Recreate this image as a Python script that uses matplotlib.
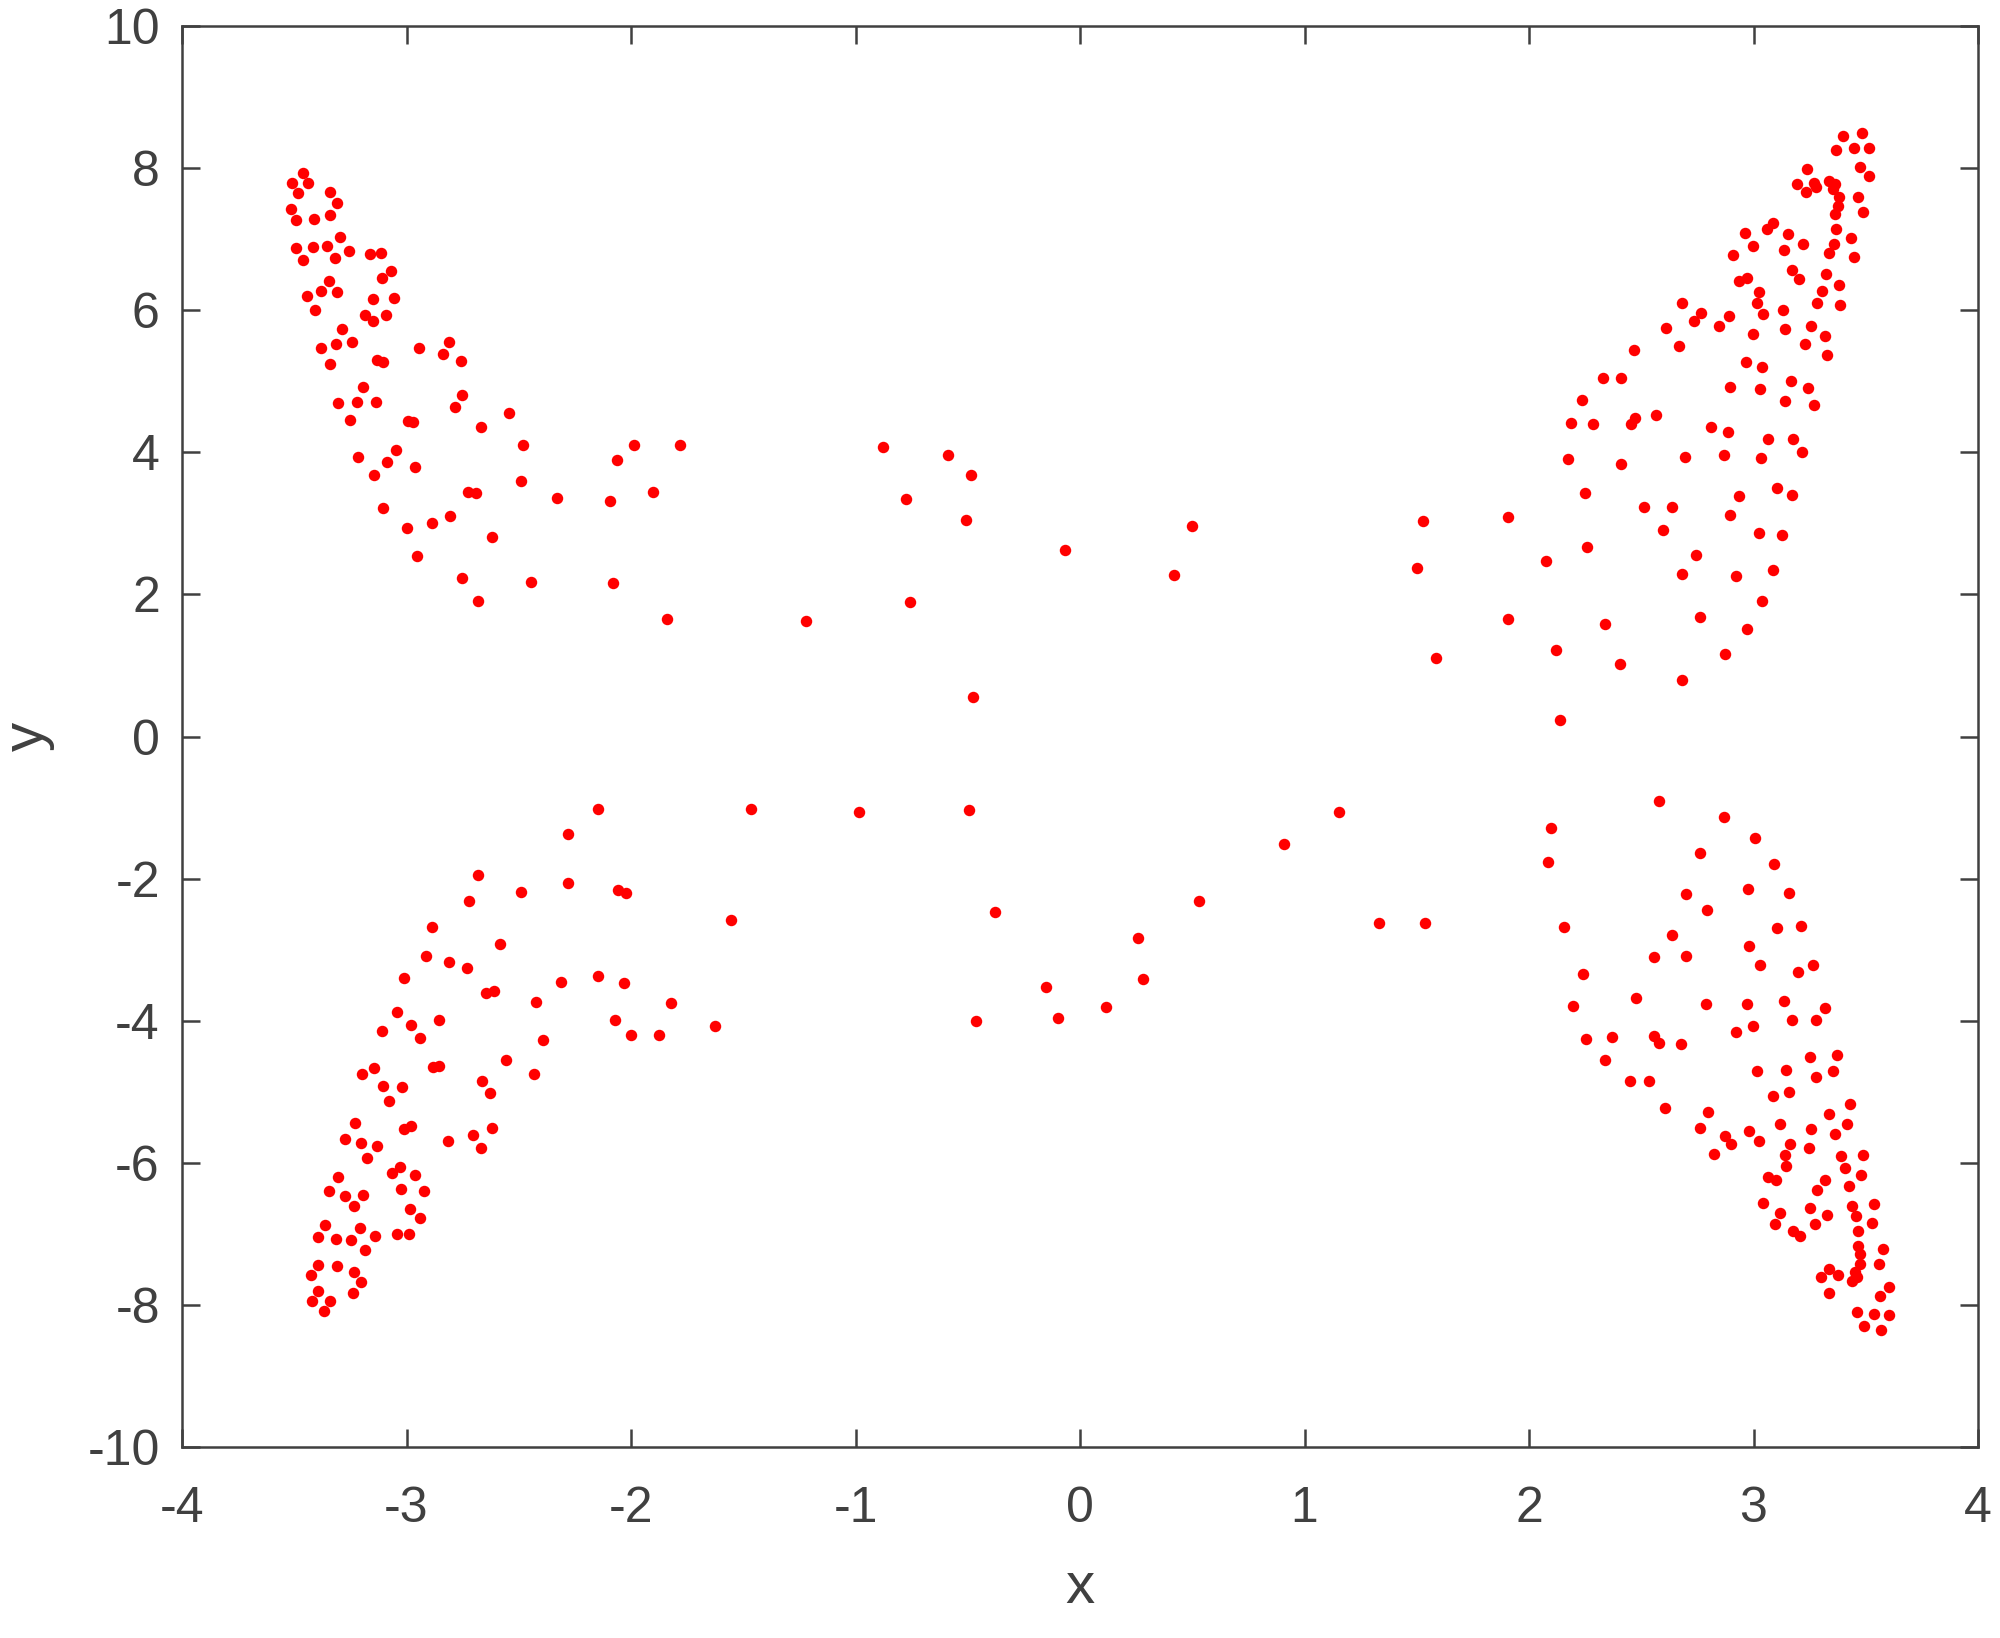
import matplotlib
matplotlib.use("Agg")
import matplotlib.pyplot as plt

plt.rcParams['font.family'] = ['Liberation Sans', 'DejaVu Sans']
plt.rcParams['axes.unicode_minus'] = False

# ---- data, grouped by region ----
# upper left wing
x_ul = [-3.463, -3.509, -3.437, -3.482, -3.342, -3.310, -3.516, -3.342, -3.491, -3.411,
        -3.298, -3.492, -3.417, -3.354, -3.255, -3.461, -3.319, -3.163, -3.115, -3.069,
        -3.108, -3.345, -3.445, -3.382, -3.308, -3.149, -3.057, -3.409, -3.185, -3.151,
        -3.093, -3.287, -3.314, -3.243, -3.382, -2.946, -2.812, -2.839, -2.757, -3.339,
        -3.131, -3.105, -3.192, -3.305, -3.219, -3.136, -3.252, -2.753, -2.786, -2.542,
        -2.995, -2.971, -2.670, -3.216, -3.048, -3.087, -3.143, -2.962, -2.725, -2.689,
        -3.105, -2.996, -2.886, -2.808, -2.621, -2.953, -2.753, -2.683,
        -2.480, -1.987, -1.780, -2.062, -2.489, -1.900, -2.328, -2.092, -2.447, -2.080,
        -1.840]
y_ul = [7.926, 7.795, 7.786, 7.654, 7.668, 7.504, 7.420, 7.345, 7.265, 7.279,
        7.026, 6.876, 6.885, 6.899, 6.829, 6.702, 6.735, 6.796, 6.800, 6.556,
        6.453, 6.416, 6.205, 6.266, 6.251, 6.153, 6.167, 6.003, 5.928, 5.843,
        5.932, 5.735, 5.529, 5.557, 5.463, 5.463, 5.552, 5.388, 5.285, 5.247,
        5.299, 5.266, 4.919, 4.694, 4.708, 4.713, 4.459, 4.802, 4.633, 4.553,
        4.445, 4.426, 4.351, 3.939, 4.032, 3.859, 3.676, 3.789, 3.441, 3.423,
        3.216, 2.939, 3.010, 3.104, 2.813, 2.541, 2.226, 1.912,
        4.098, 4.098, 4.107, 3.887, 3.591, 3.437, 3.352, 3.310, 2.175, 2.165,
        1.659]

# upper middle (sparse)
x_um = [-0.876, -0.588, -0.486, -0.777, -0.506, -0.068, -0.759, -1.222, -0.475,
        0.500, 0.419, 1.526, 1.908, 1.503, 2.076, 1.908, 1.584, 2.119, 2.137,
        2.187, 2.174]
y_um = [4.070, 3.957, 3.676, 3.343, 3.047, 2.620, 1.898, 1.621, 0.551,
        2.963, 2.278, 3.033, 3.085, 2.376, 2.465, 1.654, 1.110, 1.218, 0.237,
        4.408, 3.910]

# upper right wing
x_ur = [2.964, 2.907, 2.935, 2.970, 2.683, 2.765, 2.735, 2.891, 2.848, 2.612,
        2.667, 2.469, 2.965, 2.331, 2.411, 2.895, 2.236, 2.287, 2.474, 2.454,
        2.567, 2.811, 2.888, 2.408, 2.695, 2.867, 2.249, 2.935, 2.514, 2.637,
        2.895, 2.597, 2.260, 2.744, 2.682, 2.921, 2.339, 2.760, 2.970, 2.405,
        2.872, 2.682,
        3.400, 3.485, 3.366, 3.449, 3.516, 3.237, 3.476, 3.515, 3.195, 3.270,
        3.279, 3.232, 3.338, 3.363, 3.356, 3.379, 3.467, 3.376, 3.365, 3.489,
        3.366, 3.434, 3.357, 3.336, 3.446, 3.062, 3.085, 3.154, 2.998, 3.137,
        3.220, 3.170, 3.204, 3.323, 3.379, 3.023, 3.017, 3.041, 3.130, 3.305,
        3.281, 3.387, 2.999, 3.140, 3.256, 3.317, 3.231, 3.327, 3.039, 3.030,
        3.167, 3.244, 3.140, 3.271, 3.066, 3.175, 3.218, 3.033, 3.105, 3.170,
        3.025, 3.127, 3.085, 3.036]
y_ur = [7.081, 6.781, 6.408, 6.453, 6.102, 5.963, 5.852, 5.918, 5.779, 5.746,
        5.496, 5.445, 5.267, 5.045, 5.045, 4.917, 4.739, 4.399, 4.488, 4.394,
        4.527, 4.360, 4.282, 3.837, 3.932, 3.965, 3.425, 3.381, 3.231, 3.225,
        3.114, 2.902, 2.674, 2.552, 2.290, 2.257, 1.584, 1.678, 1.517, 1.016,
        1.155, 0.793,
        8.456, 8.501, 8.256, 8.278, 8.284, 7.994, 8.022, 7.894, 7.783, 7.794,
        7.733, 7.671, 7.816, 7.783, 7.705, 7.599, 7.588, 7.471, 7.349, 7.376,
        7.137, 7.015, 6.937, 6.803, 6.753, 7.148, 7.221, 7.076, 6.898, 6.842,
        6.931, 6.570, 6.436, 6.514, 6.358, 6.252, 6.108, 5.941, 6.002, 6.274,
        6.108, 6.074, 5.662, 5.740, 5.785, 5.640, 5.518, 5.373, 5.206, 4.894,
        5.000, 4.911, 4.716, 4.672, 4.193, 4.188, 4.004, 3.915, 3.503, 3.398,
        2.863, 2.835, 2.340, 1.906]

# lower left wing
x_ll = [-2.680, -2.722, -2.886, -2.582, -2.913, -2.809, -2.731, -3.013, -2.646, -2.610,
        -3.042, -2.981, -2.857, -3.111, -2.938, -3.143, -2.882, -2.854, -2.557, -3.197,
        -3.106, -3.020, -2.664, -3.076, -2.628, -3.229, -3.011, -2.981, -2.619, -3.275,
        -3.203, -3.133, -2.814, -2.704, -2.667, -3.177, -3.065, -3.029, -2.962, -3.304,
        -3.344, -3.274, -3.195, -3.026, -2.924, -3.234, -2.984, -2.940, -3.363, -3.396,
        -3.313, -3.247, -3.209, -3.140, -3.183, -3.041, -2.990, -3.394, -3.308, -3.235,
        -3.424, -3.204, -3.393, -3.238, -3.420, -3.339, -3.367,
        -2.148, -2.279, -2.490, -2.281, -2.056, -2.024, -1.554, -2.310, -2.148, -2.031,
        -2.425, -1.820, -2.073, -1.998, -1.875, -1.626, -2.390, -2.431]
y_ll = [-1.956, -2.316, -2.677, -2.920, -3.095, -3.174, -3.254, -3.397, -3.609, -3.577,
        -3.873, -4.059, -3.985, -4.138, -4.239, -4.662, -4.652, -4.641, -4.551, -4.752,
        -4.916, -4.927, -4.842, -5.134, -5.017, -5.446, -5.520, -5.478, -5.504, -5.663,
        -5.727, -5.758, -5.695, -5.605, -5.796, -5.933, -6.140, -6.060, -6.166, -6.203,
        -6.394, -6.468, -6.447, -6.367, -6.399, -6.611, -6.653, -6.780, -6.870, -7.050,
        -7.066, -7.088, -6.923, -7.029, -7.231, -6.997, -7.008, -7.432, -7.458, -7.532,
        -7.585, -7.675, -7.808, -7.834, -7.940, -7.951, -8.088,
        -1.020, -1.372, -2.184, -2.057, -2.156, -2.198, -2.587, -3.455, -3.371, -3.469,
        -3.742, -3.756, -3.990, -4.206, -4.201, -4.070, -4.267, -4.750]

# lower middle (sparse)
x_lm = [-1.464, -0.985, -0.495, -0.380, 0.258, -0.150, 0.282, -0.462, -0.098, 0.117,
        1.154, 0.909, 0.529, 1.333, 1.538, 2.099, 2.083, 2.156, 2.196]
y_lm = [-1.016, -1.063, -1.039, -2.470, -2.841, -3.526, -3.413, -4.000, -3.957, -3.807,
        -1.067, -1.518, -2.311, -2.625, -2.625, -1.283, -1.766, -2.681, -3.793]

# lower right wing
x_lr = [2.581, 2.867, 2.762, 2.699, 2.791, 2.639, 2.558, 2.699, 2.241, 2.478,
        2.790, 2.252, 2.370, 2.555, 2.578, 2.677, 2.922, 2.337, 2.448, 2.536,
        2.606, 2.797, 2.760, 2.872, 2.900, 2.824,
        3.007, 3.093, 2.977, 3.157, 3.105, 3.212, 2.979, 3.028, 3.198, 3.265,
        2.970, 3.136, 3.170, 3.278, 3.319, 2.999, 3.016, 3.145, 3.250, 3.373,
        3.278, 3.353, 3.087, 3.157, 3.431, 3.338, 3.418, 3.363, 3.255, 3.118,
        2.981, 3.026, 3.161, 3.249, 3.140, 3.146, 3.388, 3.486, 3.409, 3.479,
        3.063, 3.100, 3.317, 3.281, 3.427, 3.042, 3.120, 3.253, 3.329, 3.440,
        3.537, 3.457, 3.094, 3.273, 3.526, 3.176, 3.207, 3.466, 3.464, 3.476,
        3.578, 3.476, 3.559, 3.454, 3.460, 3.439, 3.335, 3.378, 3.299, 3.335,
        3.602, 3.565, 3.460, 3.537, 3.602, 3.491, 3.570]
y_lr = [-0.904, -1.135, -1.643, -2.221, -2.447, -2.799, -3.110, -3.085, -3.337, -3.678,
        -3.759, -4.261, -4.231, -4.211, -4.307, -4.332, -4.156, -4.553, -4.850, -4.845,
        -5.227, -5.287, -5.503, -5.629, -5.739, -5.880,
        -1.432, -1.788, -2.140, -2.201, -2.693, -2.668, -2.950, -3.211, -3.317, -3.211,
        -3.769, -3.719, -3.995, -3.990, -3.814, -4.081, -4.709, -4.689, -4.513, -4.478,
        -4.799, -4.709, -5.056, -5.000, -5.176, -5.317, -5.453, -5.589, -5.528, -5.458,
        -5.553, -5.694, -5.729, -5.790, -5.895, -6.046, -5.910, -5.895, -6.076, -6.172,
        -6.197, -6.247, -6.242, -6.383, -6.328, -6.559, -6.700, -6.634, -6.740, -6.609,
        -6.584, -6.755, -6.860, -6.865, -6.850, -6.961, -7.036, -6.966, -7.172, -7.288,
        -7.207, -7.423, -7.428, -7.539, -7.614, -7.660, -7.489, -7.574, -7.609, -7.836,
        -7.745, -7.871, -8.097, -8.122, -8.137, -8.303, -8.353]

x_ticks = list(range(-4, 5))
y_ticks = list(range(-10, 11, 2))

# ---- figure ----
axis_col = '#404040'
fig = plt.figure(figsize=(10, 8.19), dpi=200)
ax = fig.add_axes([0.091, 0.1166, 0.898, 0.8675])

for xs, ys in [(x_ul, y_ul), (x_um, y_um), (x_ur, y_ur),
               (x_ll, y_ll), (x_lm, y_lm), (x_lr, y_lr)]:
    ax.scatter(xs, ys, s=17, c='#ff0000', linewidths=0, zorder=3)

ax.set_xlim(-4, 4)
ax.set_ylim(-10, 10)
ax.set_xticks(x_ticks)
ax.set_yticks(y_ticks)
ax.tick_params(direction='in', length=6.5, width=0.9, top=True, right=True,
               labelsize=18, colors=axis_col)
ax.tick_params(axis='x', pad=14)
ax.tick_params(axis='y', pad=8)
for sp in ax.spines.values():
    sp.set_color(axis_col)
    sp.set_linewidth(0.9)

ax.set_xlabel('x', fontsize=21, color=axis_col)
ax.set_ylabel('y', fontsize=21, color=axis_col)
ax.xaxis.set_label_coords(0.5, -0.099)
ax.xaxis.label.set_va('center')
ax.yaxis.set_label_coords(-0.0857, 0.5)
ax.yaxis.label.set_va('center')

plt.savefig('out.png', dpi=200, facecolor='white')
